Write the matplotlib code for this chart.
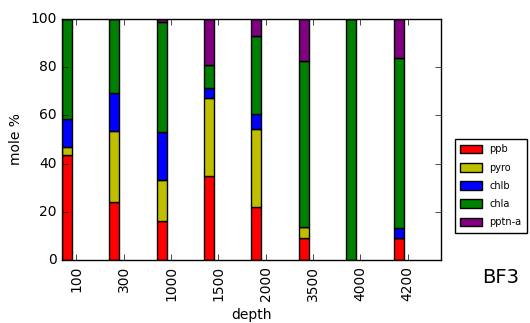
import numpy as np
import matplotlib
matplotlib.use("Agg")
import matplotlib.pyplot as plt

plt.style.use("classic")

depths = ["100", "300", "1000", "1500", "2000", "3500", "4000", "4200"]
pigments = ["ppb", "pyro", "chlb", "chla", "pptn-a"]
ppb = [43.6, 23.9, 16.3, 35.0, 22.1, 9.3, 0.0, 9.3]
pyro = [3.4, 29.6, 16.9, 32.4, 32.1, 4.5, 0.0, 0.0]
chlb = [11.4, 15.8, 19.8, 4.1, 6.4, 0.0, 0.0, 4.1]
chla = [41.6, 30.7, 45.9, 9.4, 32.5, 68.8, 100.0, 70.4]
pptn_a = [0.0, 0.0, 1.1, 19.1, 6.9, 17.4, 0.0, 16.2]
colors = ["red", "#bfbf00", "blue", "green", "purple"]

fig = plt.figure(figsize=(5.3, 3.23), dpi=100, facecolor="white")
ax = fig.add_axes([0.117, 0.195, 0.715, 0.746])

x = np.arange(len(depths))
width = 0.21
bottom = np.zeros(len(depths))
for name, vals, c in zip(pigments, [ppb, pyro, chlb, chla, pptn_a], colors):
    vals = np.array(vals)
    ax.bar(x, vals, width, bottom=bottom, color=c, edgecolor="black",
           linewidth=1, align="edge", label=name)
    bottom += vals

ax.set_xlim(0, len(depths))
ax.set_ylim(0, 100)
ax.set_xticks(x + 0.3)
ax.set_xticklabels(depths, rotation=90, fontsize=10)
ax.tick_params(axis="y", labelsize=10)
ax.set_xlabel("depth", fontsize=10)
ax.set_ylabel("mole %", fontsize=10)

# legend sits outside the axes, on the right
fig.legend(loc="upper left", bbox_to_anchor=(0.858, 0.57), borderaxespad=0,
           fontsize=7, frameon=True, fancybox=False, handlelength=2.3,
           handleheight=1.0, handletextpad=0.7, borderpad=0.55,
           labelspacing=0.85)
fig.text(0.91, 0.125, "BF3", fontsize=14)

fig.savefig("out.png", dpi=100, facecolor="white")
